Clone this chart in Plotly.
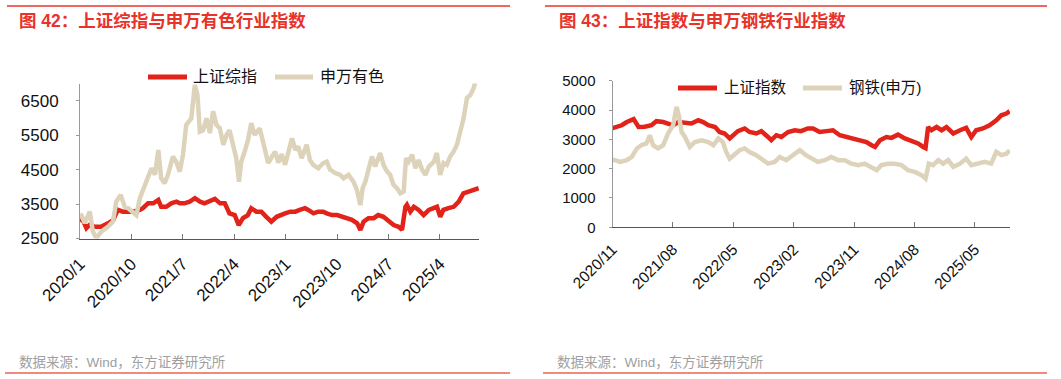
import plotly.graph_objects as go
import pandas as pd

W, H = 1061, 379

# ---------------- Data: left chart (months since 2020-01) ----------------
sh_left_month = [0, 0.6, 1.1, 1.7, 2.6, 3.7, 4.9, 5.8, 6.65, 7.5, 8.4, 9.3, 10.45, 11.0, 11.9, 12.8,
                 13.66, 14.24, 15.1, 16.0, 16.9, 17.5, 18.3, 19.2, 20.1, 21.0, 21.8, 22.7, 23.6, 24.5,
                 25.3, 26.2, 27.1, 27.8, 28.55, 29.4, 30.0, 30.9, 31.75, 32.6, 33.5, 34.4, 35.0, 35.9,
                 36.8, 37.65, 38.5, 39.4, 40.0, 40.9, 41.7, 42.6, 43.2, 44.1, 45.0, 45.8, 46.7, 47.6,
                 48.5, 49.04, 49.6, 50.5, 51.4, 52.2, 53.1, 54.0, 54.9, 55.75, 56.33, 56.92, 57.2, 57.8,
                 58.4, 59.25, 60.1, 61.0, 61.9, 62.5, 63.05, 63.6, 64.5, 65.4, 66.3, 67.1, 68.0, 68.9, 69.76]
sh_left_value = [3060, 3000, 2800, 2900, 2840, 2840, 2940, 3030, 3330, 3280, 3280, 3280, 3330, 3380, 3520, 3520,
                 3620, 3420, 3420, 3520, 3570, 3520, 3520, 3570, 3670, 3570, 3520, 3570, 3650, 3520,
                 3520, 3230, 3180, 2890, 3090, 3180, 3380, 3280, 3280, 3130, 2990, 3130, 3180, 3230,
                 3280, 3280, 3330, 3380, 3330, 3230, 3280, 3280, 3230, 3180, 3180, 3130, 3090, 3040,
                 2940, 2750, 2990, 3090, 3090, 3180, 3130, 2990, 2890, 2840, 2750, 3420, 3480, 3280,
                 3420, 3330, 3180, 3330, 3380, 3420, 3130, 3330, 3380, 3420, 3570, 3810, 3860, 3910, 3960]

nf_month = [0, 0.23, 0.82, 1.69, 2.28, 2.86, 3.73, 4.9, 5.78, 6.36, 7.12, 7.82, 8.41, 9.28, 9.86, 10.45,
            11.33, 11.91, 12.49, 13.08, 13.66, 14.24, 14.83, 15.41, 16.29, 16.87, 17.46, 18.04, 18.62,
            19.49, 20.08, 20.54, 20.96, 21.54, 22.12, 22.71, 23.29, 23.87, 24.46, 25.04, 25.62, 26.21,
            26.79, 27.37, 27.85, 28.25, 28.84, 29.42, 30.0, 30.59, 31.47, 32.05, 32.92, 33.8, 34.15,
            34.7, 35.3, 35.9, 36.5, 37.07, 37.65, 38.23, 38.83, 39.7, 40.28, 40.86, 41.73, 42.6, 43.2,
            43.78, 44.66, 45.53, 46.11, 46.99, 47.86, 48.46, 49.04, 49.44, 49.91, 50.49, 51.09, 51.66,
            52.54, 53.12, 53.71, 54.29, 54.87, 55.46, 56.04, 56.62, 57.04, 57.5, 58.09, 58.67, 59.25,
            59.84, 60.42, 61.0, 61.87, 62.47, 63.05, 63.63, 64.22, 64.8, 65.38, 65.97, 66.55, 67.13,
            67.72, 68.3, 68.88, 69.18, 69.76]
nf_value = [3200, 3180, 2950, 3280, 2700, 2510, 2700, 2840, 2990, 3570, 3760, 3420, 3380, 3280, 3180, 3670,
            4055, 4350, 4540, 4350, 5070, 4250, 4100, 4350, 4880, 4730, 4440, 4930, 5800,
            5990, 6960, 6670, 5600, 5640, 5990, 5560, 6190, 5800, 5700, 5220, 5510, 5640,
            5220, 4830, 4150, 4730, 5020, 5360, 5850, 5510, 5700, 5320, 4690, 4930, 5020,
            4700, 4950, 4640, 5020, 5410, 5070, 5170, 4830, 5220, 4780, 4640, 4540, 4690, 4730,
            4500, 4400, 4350, 4250, 4350, 4150, 3910, 3470, 3960, 4150, 4540, 4880, 4590,
            4980, 4640, 4450, 4350, 4060, 3960, 3810, 3860, 4830, 4730, 4930, 4540, 4780,
            4500, 4350, 4590, 4730, 4980, 4350, 4690, 4640, 4880, 5020, 5220, 5600, 5990,
            6580, 6670, 6870, 7060, 7150]

left_tick_dates = ["2020-01-01", "2020-10-01", "2021-07-01", "2022-04-01",
                   "2023-01-01", "2023-10-01", "2024-07-01", "2025-04-01"]
left_tick_text = ["2020/1", "2020/10", "2021/7", "2022/4", "2023/1", "2023/10", "2024/7", "2025/4"]
left_y_ticks = [2500, 3500, 4500, 5500, 6500]

# ---------------- Data: right chart (months since 2020-11) ----------------
sh_right_month = [0, 0.4, 1.39, 2.13, 3.12, 3.86, 4.85, 5.84, 6.59, 7.58, 8.32, 9.06, 9.81, 10.8, 11.78,
                  12.78, 13.52, 14.26, 15.26, 16.0, 16.75, 17.49, 17.98, 18.72, 19.72, 20.46, 21.44,
                  22.18, 23.18, 23.67, 24.41, 25.16, 26.15, 27.14, 28.13, 29.12, 29.91, 30.9, 31.9,
                  32.88, 33.88, 34.87, 35.85, 36.85, 37.84, 38.59, 39.08, 39.82, 40.82, 41.56, 42.54,
                  43.54, 44.53, 45.51, 46.26, 46.6, 47.0, 47.5, 48.24, 48.99, 49.73, 50.72, 51.71,
                  52.7, 53.45, 54.19, 55.17, 56.17, 57.16, 57.9, 58.65, 59.15]
sh_right_value = [3380, 3400, 3480, 3590, 3690, 3420, 3430, 3480, 3620, 3590, 3540, 3480, 3590, 3570, 3540,
                  3650, 3590, 3480, 3420, 3250, 3200, 3030, 3140, 3280, 3370, 3250, 3200,
                  3280, 3080, 2970, 3140, 3080, 3250, 3310, 3280, 3370, 3370, 3250, 3280,
                  3310, 3140, 3080, 3050, 2970, 2910, 2800, 2740, 2970, 3080, 3050, 3160,
                  3030, 2940, 2860, 2740, 2700, 3420, 3310, 3420, 3310, 3420, 3200, 3310,
                  3390, 3080, 3310, 3370, 3480, 3650, 3820, 3880, 3960]

steel_month = [0, 0.4, 1.14, 2.13, 2.87, 3.61, 4.35, 5.1, 5.59, 6.09, 6.83, 7.58, 8.32, 9.06, 9.56, 9.9,
               10.3, 10.8, 11.54, 12.28, 13.27, 14.26, 15.01, 15.75, 16.49, 16.99, 17.49, 18.23, 18.97,
               19.72, 20.46, 21.44, 22.43, 23.18, 24.17, 24.91, 25.9, 26.89, 27.88, 28.87, 29.66, 30.65,
               31.65, 32.63, 33.63, 34.62, 35.6, 36.6, 37.59, 38.59, 39.33, 40.07, 41.06, 42.05, 43.04,
               44.03, 45.02, 46.01, 46.6, 47.1, 47.74, 48.49, 49.23, 49.98, 50.72, 51.71, 52.7, 53.45,
               54.44, 55.43, 56.42, 57.16, 57.9, 58.65, 59.15]
steel_value = [2300, 2290, 2230, 2290, 2400, 2690, 2800, 2860, 3140, 2800, 2690, 2800, 3200, 3480, 4110, 3820,
               3250, 3080, 2740, 2910, 2970, 2910, 2800, 3030, 2910, 2570, 2340, 2510, 2630,
               2690, 2570, 2460, 2290, 2170, 2230, 2400, 2290, 2460, 2630, 2460, 2340, 2230,
               2290, 2400, 2290, 2290, 2170, 2120, 2170, 2060, 1950, 2120, 2170, 2170, 2120,
               1950, 1890, 1780, 1660, 2170, 2120, 2290, 2170, 2290, 2060, 2170, 2340, 2120,
               2170, 2230, 2170, 2570, 2460, 2510, 2630]

right_tick_dates = ["2020-11-01", "2021-08-01", "2022-05-01", "2023-02-01",
                    "2023-11-01", "2024-08-01", "2025-05-01"]
right_tick_text = ["2020/11", "2021/08", "2022/05", "2023/02", "2023/11", "2024/08", "2025/05"]
right_y_ticks = [0, 1000, 2000, 3000, 4000, 5000]

assert len(sh_left_month) == len(sh_left_value)
assert len(nf_month) == len(nf_value)
assert len(sh_right_month) == len(sh_right_value)
assert len(steel_month) == len(steel_value)


def to_dates(start, months):
    base = pd.Timestamp(start)
    out = []
    for m in months:
        whole = int(m)
        out.append(base + pd.DateOffset(months=whole) + pd.Timedelta(days=(m - whole) * 30.44))
    return out


RED = "#E2231A"
BEIGE = "#DDD3BA"
TITLE_RED = "#E8332A"
FONT = "Liberation Sans, Arial, Noto Sans CJK SC"

fig = go.Figure()
fig.add_trace(go.Scatter(x=to_dates("2020-01-01", sh_left_month), y=sh_left_value, mode="lines",
                         line=dict(color=RED, width=4.5), name="上证综指", xaxis="x", yaxis="y"))
fig.add_trace(go.Scatter(x=to_dates("2020-01-01", nf_month), y=nf_value, mode="lines",
                         line=dict(color=BEIGE, width=4.5), name="申万有色", xaxis="x", yaxis="y"))
fig.add_trace(go.Scatter(x=to_dates("2020-11-01", sh_right_month), y=sh_right_value, mode="lines",
                         line=dict(color=RED, width=4.5), name="上证指数", xaxis="x2", yaxis="y2"))
fig.add_trace(go.Scatter(x=to_dates("2020-11-01", steel_month), y=steel_value, mode="lines",
                         line=dict(color=BEIGE, width=4.5), name="钢铁(申万)", xaxis="x2", yaxis="y2"))


def px(x):
    return x / W


def py(y):
    return 1 - y / H


common_x = dict(type="date", showline=True, linecolor="#555555", linewidth=1, ticks="inside",
                ticklen=5, tickcolor="#777777", tickangle=-45, showgrid=False, zeroline=False,
                automargin=False)
common_y = dict(showline=True, linecolor="#999999", linewidth=1, ticks="outside", ticklen=3,
                tickcolor="#999999", showgrid=False, zeroline=False, automargin=False)

fig.update_layout(
    width=W, height=H, autosize=False,
    margin=dict(l=0, r=0, t=0, b=0, pad=0),
    paper_bgcolor="white", plot_bgcolor="white",
    showlegend=False,
    font=dict(family=FONT, color="#111111"),
    xaxis=dict(common_x, domain=[px(80), px(479)], anchor="y",
               range=["2020-01-01", "2025-10-26"],
               tickvals=left_tick_dates, ticktext=left_tick_text,
               tickfont=dict(size=17, family=FONT, color="#111111"), ticklabelstandoff=8),
    yaxis=dict(common_y, domain=[py(238.5), py(83.5)], anchor="x", range=[2500, 7000],
               tickvals=left_y_ticks, tickfont=dict(size=17, family=FONT, color="#111111"),
               ticklabelstandoff=14),
    xaxis2=dict(common_x, domain=[px(612.5), px(1010)], anchor="y2",
                range=["2020-11-01", "2025-10-07"],
                tickvals=right_tick_dates, ticktext=right_tick_text,
                tickfont=dict(size=15.5, family=FONT, color="#111111"), ticklabelstandoff=6),
    yaxis2=dict(common_y, domain=[py(227.3), py(80.7)], anchor="x2", range=[0, 5000],
                tickvals=right_y_ticks, tickfont=dict(size=15, family=FONT, color="#111111"),
                ticklabelstandoff=10),
)

shapes = []
# top red rules
shapes.append(dict(type="line", xref="paper", yref="paper", x0=px(7), x1=px(510), y0=py(6), y1=py(6),
                   line=dict(color=TITLE_RED, width=1.5)))
shapes.append(dict(type="line", xref="paper", yref="paper", x0=px(545), x1=px(1047), y0=py(6), y1=py(6),
                   line=dict(color=TITLE_RED, width=1.5)))
# bottom rules
shapes.append(dict(type="line", xref="paper", yref="paper", x0=px(5), x1=px(510), y0=py(373), y1=py(373),
                   line=dict(color="#F08A7E", width=2)))
shapes.append(dict(type="line", xref="paper", yref="paper", x0=px(543), x1=px(1047), y0=py(373), y1=py(373),
                   line=dict(color="#F08A7E", width=2)))
# legend swatches
legend_items = [
    (148, 187, 77, RED, 191, "上证综指", 16),
    (275, 313, 77, BEIGE, 318, "申万有色", 16),
    (678, 717, 88, RED, 722, "上证指数", 15.5),
    (803, 842, 88, BEIGE, 847, "钢铁(申万)", 15.5),
]
annotations = []
for x0, x1, yy, col, tx, label, fs in legend_items:
    shapes.append(dict(type="line", xref="paper", yref="paper", x0=px(x0), x1=px(x1), y0=py(yy), y1=py(yy),
                       line=dict(color=col, width=5)))
    annotations.append(dict(xref="paper", yref="paper", x=px(tx), y=py(yy), xanchor="left", yanchor="middle",
                            text=label, showarrow=False, font=dict(size=fs, family=FONT, color="#111111")))

# titles
annotations.append(dict(xref="paper", yref="paper", x=px(17), y=py(20.5), xanchor="left", yanchor="middle",
                        text="<b>图 42：上证综指与申万有色行业指数</b>", showarrow=False,
                        font=dict(size=17.5, family=FONT, color=TITLE_RED)))
annotations.append(dict(xref="paper", yref="paper", x=px(557), y=py(20.5), xanchor="left", yanchor="middle",
                        text="<b>图 43：上证指数与申万钢铁行业指数</b>", showarrow=False,
                        font=dict(size=17.5, family=FONT, color=TITLE_RED)))
# sources
annotations.append(dict(xref="paper", yref="paper", x=px(17), y=py(362.5), xanchor="left", yanchor="middle",
                        text="数据来源：Wind，东方证券研究所", showarrow=False,
                        font=dict(size=13.5, family=FONT, color="#A0A0A0")))
annotations.append(dict(xref="paper", yref="paper", x=px(555), y=py(362.5), xanchor="left", yanchor="middle",
                        text="数据来源：Wind，东方证券研究所", showarrow=False,
                        font=dict(size=13.5, family=FONT, color="#A0A0A0")))

fig.update_layout(shapes=shapes, annotations=annotations)
fig.write_html("out.html", config={"displayModeBar": False},
               post_script="document.body.style.margin='0px';")
